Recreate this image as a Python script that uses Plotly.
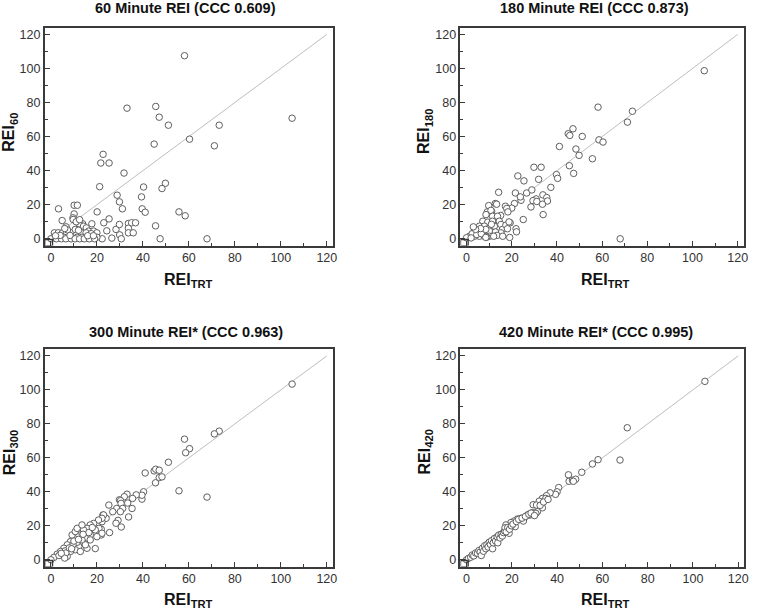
import plotly.graph_objects as go

# ---------------- data ----------------
titles = ["60 Minute REI (CCC 0.609)", "180 Minute REI (CCC 0.873)",
          "300 Minute REI* (CCC 0.963)", "420 Minute REI* (CCC 0.995)"]
y_labels = ["60", "180", "300", "420"]
x_label = "TRT"
tick_vals = [0, 20, 40, 60, 80, 100, 120]
identity = [0, 120]

x60 = [58.1, 33.1, 45.6, 47.1, 51.1, 73.2, 104.9, 60.3, 71.1, 44.9, 22.7, 21.7, 25.3, 31.8, 21.2,
       40.3, 49.8, 48.3, 28.8, 39.4, 29.8, 31.1, 39.7, 41.0, 20.1, 55.7, 58.4, 3.3, 10.1, 11.5,
       10.1, 9.6, 45.5, 47.5, 67.9, 25.3, 23.0, 24.3, 26.5, 28.3, 29.8, 29.9, 30.6, 33.7, 33.7,
       33.7, 35.1, 36.8, 35.8, 22.3,
       9.7, 4.9, 6.6, 13.8, 12.4, 17.8, 14.2, 15.4, 16.4, 18.6, 20.0, 1.5, 3.2, 5.0, 6.8, 9.0,
       11.2, 13.2, 15.3, 17.5, 1.3, 3.5, 5.6, 7.8, 11.4, 13.5, 15.7, 17.8, 20.0, 0.0, 2.4, 4.6,
       6.5, 8.8, 10.5, 12.5, 14.5, 16.7, 19.0, 7.2, 10.6, 12.0, 8.3, 4.0, 6.0, 11.0, 12.5, 16.0,
       18.5, 2.0]
y60 = [107.5, 76.7, 77.7, 71.4, 66.7, 66.7, 70.8, 58.5, 54.6, 55.6, 49.6, 44.5, 44.5, 38.6, 30.6,
       30.4, 32.6, 29.5, 25.6, 24.6, 21.7, 17.6, 17.6, 15.6, 15.8, 15.8, 13.5, 17.6, 19.7, 19.7,
       14.6, 12.3, 7.6, 0.0, 0.0, 11.7, 9.4, 4.7, 0.4, 5.5, 8.4, 2.3, 0.0, 9.0, 6.2,
       3.5, 9.4, 9.4, 3.5, 0.0,
       11.3, 10.7, 7.0, 8.8, 8.8, 8.8, 7.4, 6.4, 4.5, 4.5, 3.5, 3.5, 3.5, 3.5, 3.5, 3.5,
       2.6, 3.5, 3.5, 3.0, 0.9, 0.9, 0.9, 0.9, 0.9, 0.9, 0.9, 0.9, 0.9, 0.0, 0.0, 0.0,
       0.0, 0.0, 0.0, 0.0, 0.0, 0.0, 0.0, 5.2, 5.5, 5.0, 2.0, 2.0, 6.0, 10.0, 11.2, 1.8,
       1.8, 1.8]

x180 = [105.2, 58.2, 73.4, 71.2, 47.1, 45.0, 45.7, 51.2, 58.6, 60.4, 41.1, 48.4, 49.8, 55.7, 45.5,
        47.4, 29.8, 33.0, 39.8, 40.3, 31.9, 25.4, 22.7, 14.2, 21.6, 26.6, 28.9, 37.3, 33.8, 35.5,
        35.8, 30.8, 29.4, 28.5, 31.1, 33.6, 33.9, 25.1, 24.1, 23.8, 21.2, 20.0, 21.9, 22.1, 19.3,
        19.1, 68.0, 12.7, 13.3, 17.2, 17.8, 18.3, 9.8, 9.2, 11.1, 15.1, 14.2, 12.4,
        10.8, 8.6, 11.5, 13.7, 7.2, 9.4, 11.5, 14.5, 15.2, 5.7, 7.9, 10.1, 12.3, 3.5, 5.7, 7.9,
        10.1, 15.9, 15.2, 1.3, 3.5, 5.7, 7.9, 10.1, 0.0, 17.4, 18.1, 18.8, 2.5, 4.5, 6.5, 8.5,
        12.8, 13.5, 9.0, 6.2, 4.0, 11.0, 16.0, 12.0, 2.0, 8.5, 3.0]
y180 = [98.7, 77.3, 74.9, 68.5, 64.6, 61.7, 60.7, 60.1, 58.1, 56.8, 54.2, 52.7, 49.0, 47.0, 42.9,
        38.4, 42.0, 42.0, 37.7, 35.5, 34.9, 34.0, 36.9, 27.3, 26.9, 26.9, 28.7, 30.2, 25.8, 24.2,
        22.2, 23.4, 22.4, 18.7, 21.9, 20.3, 14.2, 11.3, 22.6, 24.6, 20.7, 18.0, 5.9, 4.1, 9.4,
        0.8, 0.0, 20.7, 20.3, 19.1, 17.8, 15.8, 19.5, 15.8, 16.2, 13.7, 10.3, 11.1,
        16.7, 14.2, 13.2, 13.2, 10.3, 9.8, 10.3, 10.3, 8.4, 7.4, 7.4, 6.4, 7.4, 4.5, 4.5, 4.5,
        4.5, 5.5, 3.5, 1.5, 1.5, 1.5, 1.5, 1.5, 0.6, 8.0, 5.9, 9.9, 3.0, 2.5, 3.0, 5.5,
        4.0, 2.0, 1.0, 6.0, 5.5, 8.5, 1.5, 1.5, 0.5, 0.8, 7.0]

x300 = [104.9, 73.2, 71.1, 58.1, 60.3, 58.6, 51.1, 41.0, 44.9, 45.6, 47.1, 47.1, 48.3, 45.5, 55.7,
        67.9, 40.3, 39.6, 39.6, 37.1, 35.5, 33.1, 31.9, 29.8, 30.3, 33.4, 30.5, 31.2, 35.3, 28.6,
        26.9, 30.2, 25.2, 22.6, 24.0, 21.6, 22.2, 29.2, 28.3, 30.6, 33.8, 25.5, 21.9, 21.9, 19.3,
        20.0, 20.9,
        22.9, 22.2, 20.7, 18.6, 17.1, 15.7, 14.2, 12.8, 11.4, 9.9, 8.5, 7.1, 5.6, 4.2, 2.7, 1.3,
        0.0, 19.3, 17.1, 15.0, 14.2, 12.1, 10.6, 8.5, 7.1, 22.2, 15.7, 13.5, 11.4, 9.6, 6.3, 12.8,
        15.0, 17.1, 20.0, 9.2, 10.6, 11.4, 13.5, 6.5, 8.0, 3.5, 10.0, 12.0, 16.5, 18.0, 14.0, 6.0,
        4.5, 9.0]
y300 = [103.4, 75.7, 74.1, 71.0, 65.4, 63.0, 57.4, 51.1, 52.3, 53.3, 52.7, 48.4, 48.8, 45.3, 40.6,
        36.9, 40.0, 35.7, 38.0, 38.2, 36.1, 38.6, 37.1, 35.3, 34.8, 33.4, 33.2, 30.2, 30.2, 30.2,
        28.3, 28.3, 32.2, 26.3, 24.4, 23.4, 22.4, 23.2, 21.5, 19.3, 25.2, 16.0, 18.0, 14.6, 6.6,
        20.5, 18.5,
        26.4, 24.4, 23.4, 21.4, 20.5, 18.5, 17.6, 14.6, 13.6, 12.7, 10.7, 8.8, 6.8, 4.9, 3.3, 1.4,
        0.0, 17.6, 14.6, 12.7, 9.8, 7.8, 5.9, 4.9, 2.0, 15.6, 6.8, 11.7, 10.3, 8.8, 5.3, 4.9,
        8.8, 11.7, 13.6, 14.6, 16.6, 18.5, 20.5, 4.0, 7.0, 2.5, 11.0, 12.0, 16.0, 19.0, 15.0, 1.0,
        3.8, 6.5]

x420 = [105.3, 71.0, 67.8, 58.1, 55.6, 50.9, 45.0, 45.3, 46.8, 48.2, 47.2, 40.7, 40.0, 39.3, 36.9,
        35.3, 33.5, 35.0, 32.1, 33.5, 29.4, 30.9, 31.3, 29.1, 30.6, 27.9, 25.4, 26.9, 25.1, 22.5,
        24.0, 21.0, 19.6, 21.5, 18.8, 17.4, 18.1,
        0.0, 0.8, 1.8, 2.5, 3.2, 4.0, 4.8, 5.5, 6.0, 6.5, 7.0, 7.5, 8.0, 8.5, 9.0, 9.5, 10.0,
        10.5, 11.0, 11.5, 11.8, 12.3, 12.8, 13.5, 13.8, 14.2, 14.8, 15.3, 15.8, 16.3, 16.8, 17.0,
        17.5, 18.2, 19.0, 19.8, 20.5, 22.0, 23.0, 24.5, 26.0, 27.5, 28.5, 30.0, 32.5, 34.0, 36.0]
y420 = [105.0, 77.7, 58.7, 58.9, 56.4, 51.5, 50.0, 46.2, 46.8, 47.4, 46.2, 42.5, 40.0, 38.5, 39.4,
        37.7, 36.1, 36.1, 34.5, 30.6, 32.4, 32.2, 28.3, 27.7, 27.3, 26.3, 24.4, 26.3, 22.8, 24.0,
        24.4, 22.8, 21.9, 19.5, 15.6, 20.5, 18.5,
        0.0, 0.8, 1.5, 2.8, 2.3, 4.0, 3.8, 5.5, 4.5, 2.5, 6.8, 5.0, 8.2, 6.5, 9.0, 7.5, 10.3,
        9.0, 11.2, 6.5, 10.0, 12.5, 11.0, 13.5, 10.0, 14.5, 12.8, 15.0, 14.0, 16.0, 17.0, 18.8,
        16.5, 19.0, 18.0, 20.0, 21.0, 22.5, 23.8, 24.5, 25.5, 26.8, 27.5, 26.0, 32.0, 34.0, 35.5]

series = [(x60, y60), (x180, y180), (x300, y300), (x420, y420)]

# ---------------- layout geometry ----------------
W, H = 760, 614
xdoms = [(45 / W, 335 / W), (463.5 / W, 748.5 / W), (45 / W, 335 / W), (463.5 / W, 749 / W)]
ydoms = [(1 - 246 / H, 1 - 28 / H), (1 - 246 / H, 1 - 28 / H),
         (1 - 567.5 / H, 1 - 350 / H), (1 - 567.5 / H, 1 - 350 / H)]
xr = [-2.7, 122.6]
yr = [-4.0, 123.8]
title_pos = [(187, 8), (598, 8), (187, 333), (600, 333)]
xlab_pos = [(190, 281), (610, 281), (190, 601), (610, 601)]
ylab_pos = [(10, 132), (428, 132), (10, 453), (428, 453)]

FONT = "Liberation Sans Narrow, Arial Narrow, Liberation Sans, Arial, sans-serif"
AX = "#3a3a3a"

fig = go.Figure()
for i, (xs, ys) in enumerate(series):
    xa = "x" if i == 0 else f"x{i+1}"
    ya = "y" if i == 0 else f"y{i+1}"
    fig.add_trace(go.Scatter(x=identity, y=identity, mode="lines",
                             line=dict(color="#bdbdbd", width=1),
                             xaxis=xa, yaxis=ya, showlegend=False, hoverinfo="skip"))
    fig.add_trace(go.Scatter(x=xs, y=ys, mode="markers",
                             marker=dict(symbol="circle", size=6.5, color="white",
                                         line=dict(color="#5f5f5f", width=1)),
                             xaxis=xa, yaxis=ya, showlegend=False))
    axcommon = dict(showgrid=False, zeroline=False, showline=True, mirror=True,
                    linecolor=AX, linewidth=1.6, ticks="inside", ticklen=5, tickwidth=1.2,
                    tickcolor=AX, tickvals=tick_vals,
                    minor=dict(ticks="inside", ticklen=3, tickwidth=1, tickcolor=AX, dtick=10,
                               tick0=0, showgrid=False),
                    tickfont=dict(family=FONT, size=12.5, color="#333"))
    fig.layout[("xaxis" if i == 0 else f"xaxis{i+1}")] = dict(
        domain=list(xdoms[i]), range=xr, anchor=ya, **axcommon)
    fig.layout[("yaxis" if i == 0 else f"yaxis{i+1}")] = dict(
        domain=list(ydoms[i]), range=yr, anchor=xa, **axcommon)
    # small corner box at the origin
    fig.add_shape(type="rect", xref=xa, yref=ya, x0=xr[0], x1=0.7, y0=yr[0], y1=-0.4,
                  line=dict(color=AX, width=1.4), fillcolor="rgba(0,0,0,0)")
    tx, ty = title_pos[i]
    fig.add_annotation(text=f"<b>{titles[i]}</b>", x=tx / W, y=1 - ty / H, xref="paper",
                       yref="paper", showarrow=False, xanchor="center", yanchor="middle",
                       font=dict(family=FONT, size=14.5, color="#111"))
    lx, ly = xlab_pos[i]
    fig.add_annotation(text=f"<b>REI<sub>{x_label}</sub></b>", x=lx / W, y=1 - ly / H,
                       xref="paper", yref="paper", showarrow=False, xanchor="center",
                       yanchor="middle", font=dict(family=FONT, size=16, color="#111"))
    vx, vy = ylab_pos[i]
    fig.add_annotation(text=f"<b>REI<sub>{y_labels[i]}</sub></b>", x=vx / W, y=1 - vy / H,
                       xref="paper", yref="paper", showarrow=False, xanchor="center",
                       yanchor="middle", textangle=-90,
                       font=dict(family=FONT, size=16, color="#111"))

fig.update_layout(width=W, height=H, margin=dict(l=0, r=0, t=0, b=0),
                  paper_bgcolor="white", plot_bgcolor="white",
                  font=dict(family=FONT, color="#333"))
fig.write_html("out.html", config={"displayModeBar": False},
               post_script="document.body.style.margin='0';document.body.style.overflow='hidden';")
